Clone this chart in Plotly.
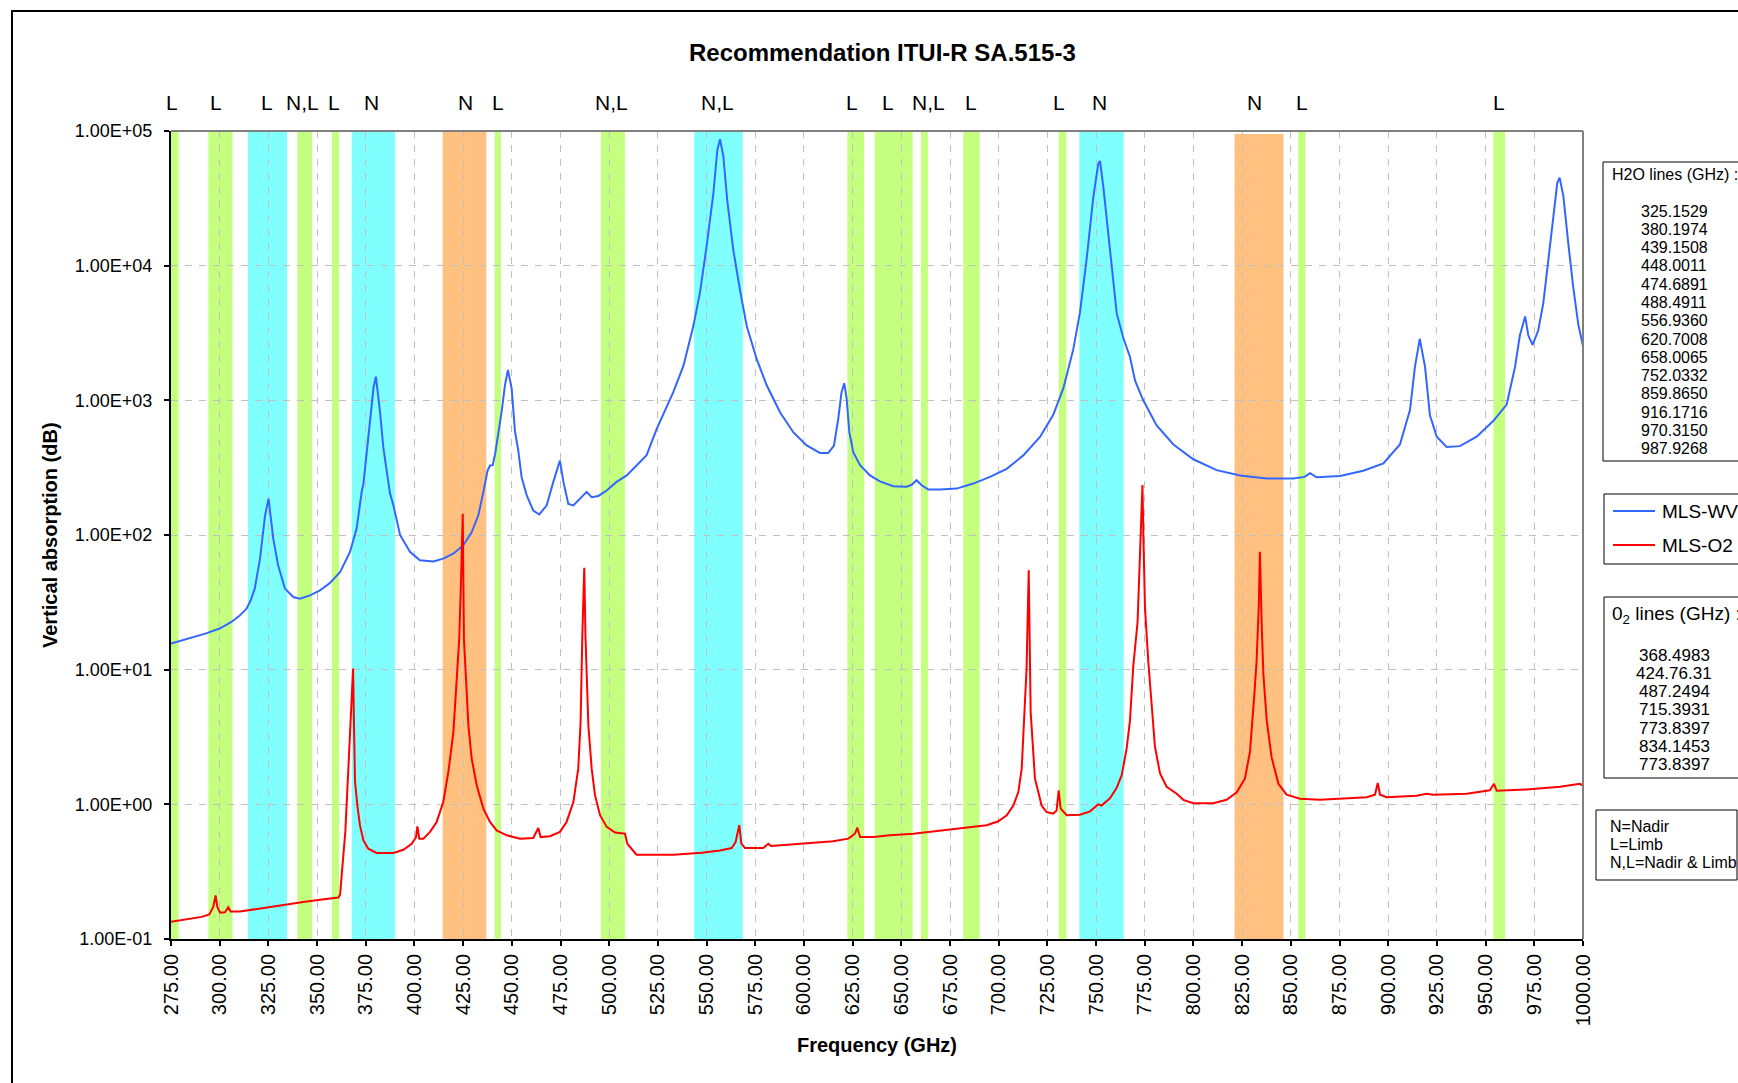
import math
import plotly.graph_objects as go

# ---------------------------------------------------------------------------
# Vertical absorption spectra (dB) for the two MLS model atmospheres
# ---------------------------------------------------------------------------
wv_freq = [275.0, 280.0, 286.5, 293.0, 300.0, 306.0, 310.0, 313.8, 316.0, 318.0,
           320.7, 323.3, 325.1, 327.5, 330.0, 333.5, 337.8, 341.2, 346.4, 351.5,
           356.6, 361.8, 366.9, 370.3, 372.9, 373.8, 375.5, 377.2, 379.0, 380.2,
           382.3, 384.0, 385.7, 387.4, 389.2, 392.6, 397.7, 402.8, 409.7, 414.8,
           419.9, 425.1, 429.4, 432.8, 435.4, 437.5, 438.8, 440.2, 441.4, 443.1,
           444.8, 446.5, 448.0, 449.9, 451.6, 453.3, 455.0, 457.6, 461.0, 464.1,
           467.9, 471.3, 474.7, 476.5, 479.0, 481.6, 485.9, 488.4, 491.0, 494.4,
           498.7, 503.8, 509.0, 514.1, 519.2, 524.4, 532.9, 538.1, 543.2, 546.6,
           550.0, 553.5, 555.5, 556.9, 558.6, 560.6, 563.7, 567.1, 570.6, 575.7,
           580.8, 587.7, 594.5, 601.4, 608.2, 612.5, 615.4, 617.6, 619.3, 620.7,
           621.9, 623.3, 625.3, 628.8, 633.9, 639.0, 645.9, 652.7, 655.3, 657.8,
           660.4, 663.8, 669.8, 678.4, 686.9, 695.5, 704.1, 712.6, 721.2, 728.0,
           733.2, 738.3, 741.7, 745.1, 748.6, 751.1, 752.0, 753.7, 756.3, 758.8,
           760.6, 764.0, 767.4, 770.0, 774.2, 781.1, 789.7, 799.9, 811.9, 823.9,
           837.6, 851.3, 857.0, 859.9, 863.2, 875.2, 887.2, 897.5, 906.0, 911.2,
           913.7, 916.2, 918.9, 921.4, 924.9, 930.0, 936.8, 945.4, 954.0, 960.8,
           965.1, 967.6, 970.3, 971.9, 974.1, 977.0, 979.6, 982.2, 984.8, 986.8,
           988.0, 989.9, 992.5, 995.0, 997.6, 1000.0]
wv_db = [15.6, 16.4, 17.3, 18.6, 20.2, 22.6, 25.0, 28.4, 33.0, 39.9,
         66.7, 140, 186, 94, 59.6, 40.0, 34.6, 33.7, 35.6, 38.8,
         44.0, 53.0, 74.8, 111, 209, 240, 410, 740, 1250, 1500,
         830, 450, 302, 205, 166, 100, 75.0, 65.0, 63.7, 66.7,
         72.7, 83.8, 105, 140, 209, 300, 328, 330, 398, 563,
         831, 1300, 1680, 1230, 590, 425, 270, 198, 152, 142,
         166, 248, 357, 248, 170, 166, 191, 209, 191, 195,
         214, 248, 277, 329, 392, 614, 1150, 1800, 3560, 6300,
         13900, 34500, 72000, 87000, 65000, 30700, 13100, 6650, 3560, 2030,
         1300, 815, 580, 462, 407, 407, 462, 727, 1150, 1340,
         1030, 580, 412, 330, 277, 250, 230, 228, 236, 255,
         234, 218, 218, 221, 241, 270, 310, 390, 535, 780,
         1230, 2400, 4480, 11100, 32500, 57000, 60000, 38700, 17500, 8400,
         4400, 2900, 2100, 1400, 1000, 650, 470, 365, 303, 277,
         263, 263, 270, 288, 268, 274, 300, 340, 470, 850,
         1770, 2860, 1770, 775, 537, 450, 457, 537, 705, 930,
         1770, 3040, 4200, 3040, 2580, 3300, 5250, 11000, 22800, 41200,
         45000, 33000, 14400, 6900, 3650, 2530]

o2_freq = [275.0, 280.5, 285.6, 290.7, 294.7, 296.7, 297.9, 298.8, 300.2, 302.7,
           304.4, 305.6, 310.4, 317.3, 325.8, 334.4, 342.9, 351.5, 360.9, 361.8,
           363.1, 364.5, 365.5, 366.6, 367.4, 368.5, 369.0, 369.5, 370.7, 372.0,
           373.8, 376.3, 380.6, 389.2, 394.3, 398.6, 400.8, 401.5, 402.5, 404.6,
           408.0, 411.4, 414.8, 417.4, 420.0, 421.7, 423.0, 423.9, 424.8, 425.4,
           426.5, 427.7, 429.4, 432.0, 435.4, 438.8, 442.2, 447.4, 454.2, 461.0,
           463.6, 464.8, 469.6, 474.7, 478.1, 481.6, 484.1, 485.3, 486.2, 487.2,
           487.8, 488.4, 489.3, 491.0, 492.7, 495.3, 498.7, 503.0, 508.1, 509.3,
           511.5, 514.0, 525.2, 532.9, 547.5, 556.9, 562.9, 564.9, 566.0, 566.8,
           567.8, 569.7, 579.1, 581.7, 583.1, 592.8, 604.8, 615.0, 622.8, 626.2,
           627.4, 628.8, 635.6, 644.2, 656.1, 664.7, 675.0, 683.5, 693.8, 699.8,
           704.1, 707.5, 710.1, 711.8, 713.0, 714.3, 715.4, 715.8, 716.4, 717.4,
           718.6, 720.3, 722.0, 724.6, 728.0, 729.7, 730.8, 731.8, 734.9, 741.7,
           746.9, 751.1, 752.8, 757.1, 760.5, 763.1, 765.7, 767.4, 769.1, 771.3,
           772.9, 773.8, 774.3, 775.1, 776.8, 778.5, 780.2, 782.8, 786.2, 791.4,
           794.8, 799.9, 810.2, 817.0, 822.2, 826.4, 829.0, 831.1, 832.4, 833.5,
           834.1, 835.0, 835.9, 837.6, 840.1, 843.6, 847.8, 854.7, 865.0, 888.9,
           893.2, 894.6, 895.8, 899.2, 914.6, 919.7, 923.1, 940.3, 952.2, 954.3,
           955.7, 971.1, 988.2, 998.4, 1000.0]
o2_db = [0.134, 0.138, 0.142, 0.146, 0.152, 0.173, 0.211, 0.173, 0.157, 0.158,
         0.172, 0.160, 0.160, 0.166, 0.173, 0.181, 0.188, 0.196, 0.203, 0.213,
         0.373, 0.624, 1.24, 2.6, 5.1, 10.2, 3.6, 1.47, 0.98, 0.70,
         0.54, 0.468, 0.436, 0.436, 0.46, 0.51, 0.57, 0.687, 0.556, 0.556,
         0.624, 0.74, 1.04, 1.74, 3.44, 8.1, 17.0, 44.8, 144, 17.0,
         8.1, 3.86, 2.18, 1.38, 0.93, 0.74, 0.64, 0.589, 0.556, 0.562,
         0.667, 0.571, 0.58, 0.624, 0.74, 1.04, 1.84, 4.07, 18.0, 57.0,
         18.0, 8.1, 3.86, 1.84, 1.17, 0.83, 0.68, 0.617, 0.605, 0.51,
         0.468, 0.423, 0.423, 0.423, 0.437, 0.455, 0.474, 0.525, 0.624, 0.70,
         0.513, 0.474, 0.474, 0.51, 0.49, 0.503, 0.519, 0.531, 0.556, 0.605,
         0.671, 0.571, 0.571, 0.589, 0.605, 0.624, 0.649, 0.667, 0.70, 0.748,
         0.83, 0.98, 1.24, 1.84, 4.1, 10.2, 54.7, 14.3, 4.85, 2.9,
         1.55, 1.24, 0.98, 0.877, 0.853, 0.90, 1.27, 0.93, 0.83, 0.838,
         0.887, 1.0, 0.98, 1.11, 1.32, 1.64, 2.6, 4.2, 10.7, 22.6,
         104, 235, 95, 28.8, 11.5, 5.1, 2.69, 1.70, 1.35, 1.20,
         1.08, 1.02, 1.02, 1.08, 1.23, 1.55, 2.45, 6.1, 11.5, 28.8,
         75.0, 21.9, 9.2, 4.2, 2.24, 1.42, 1.18, 1.10, 1.08, 1.13,
         1.18, 1.44, 1.18, 1.13, 1.16, 1.20, 1.18, 1.20, 1.27, 1.42,
         1.26, 1.29, 1.35, 1.42, 1.38]

# ---------------------------------------------------------------------------
# Allocated sensing bands (GHz), their group and Nadir/Limb usage
# ---------------------------------------------------------------------------
band_lo = [275.0, 294.2, 314.5, 339.9, 357.6, 367.8, 414.5, 441.2, 495.7, 543.6,
           622.3, 636.3, 660.1, 681.8, 730.8, 741.4, 821.1, 853.8, 954.0]
band_hi = [278.9, 306.6, 334.6, 347.4, 361.3, 390.0, 436.9, 444.4, 508.1, 568.6,
           630.9, 655.8, 663.6, 690.2, 734.7, 764.2, 846.2, 857.5, 960.0]
band_group = ["green", "green", "cyan", "green", "green", "cyan", "orange", "green",
              "green", "cyan", "green", "green", "green", "green", "green", "cyan",
              "orange", "green", "green"]
band_top_db = [1e5, 1e5, 1e5, 1e5, 1e5, 1e5, 1e5, 1e5, 1e5, 1e5,
               1e5, 1e5, 1e5, 1e5, 1e5, 1e5, 9.5e4, 1e5, 1e5]
band_mode = ["L", "L", "L", "N,L", "L", "N", "N", "L", "N,L", "N,L",
             "L", "L", "N,L", "L", "L", "N", "N", "L", "L"]
mode_freq = [275.4, 298.2, 324.3, 342.5, 358.5, 377.8, 426.2, 442.7, 501.3, 555.4,
             624.8, 643.0, 664.1, 685.7, 731.2, 751.7, 831.4, 855.8, 957.1]

# Tick positions and labels
x_ticks = [275, 300, 325, 350, 375, 400, 425, 450, 475, 500, 525, 550, 575, 600,
           625, 650, 675, 700, 725, 750, 775, 800, 825, 850, 875, 900, 925, 950,
           975, 1000]
x_tick_text = ["%.2f" % v for v in x_ticks]
y_ticks = [0.1, 1, 10, 100, 1000, 10000, 100000]
y_tick_text = ["1.00E-01", "1.00E+00", "1.00E+01", "1.00E+02", "1.00E+03",
               "1.00E+04", "1.00E+05"]

# Side-panel contents
h2o_lines = ["325.1529", "380.1974", "439.1508", "448.0011", "474.6891", "488.4911",
             "556.9360", "620.7008", "658.0065", "752.0332", "859.8650", "916.1716",
             "970.3150", "987.9268"]
o2_lines = ["368.4983", "424.76.31", "487.2494", "715.3931", "773.8397", "834.1453",
            "773.8397"]
mode_key = ["N=Nadir", "L=Limb", "N,L=Nadir & Limb"]
series_names = ["MLS-WV", "MLS-O2"]

# ---------------------------------------------------------------------------
# Styling
# ---------------------------------------------------------------------------
FONT = "Liberation Sans, Arial, sans-serif"
GROUP_COLORS = {"green": "#C4FF80", "cyan": "#80FFFF", "orange": "#FFC080"}
WV_COLOR = "#3366FF"
O2_COLOR = "#FF0000"

W, H = 1738, 1083
PL, PR, PT, PB = 171, 1583, 131, 939   # plot area in pixels


def px_x(px):
    return (px - PL) / (PR - PL)


def px_y(py):
    return (PB - py) / (PB - PT)


def log_paper(v):
    return (math.log10(v) + 1.0) / 6.0


fig = go.Figure()
fig.add_trace(go.Scatter(x=wv_freq, y=wv_db, mode="lines", name=series_names[0],
                         line=dict(color=WV_COLOR, width=2), showlegend=False))
fig.add_trace(go.Scatter(x=o2_freq, y=o2_db, mode="lines", name=series_names[1],
                         line=dict(color=O2_COLOR, width=2), showlegend=False))

shapes = []
annotations = []

# coloured bands behind the grid
for lo, hi, grp, top in zip(band_lo, band_hi, band_group, band_top_db):
    shapes.append(dict(type="rect", xref="x", yref="paper", x0=lo, x1=hi,
                       y0=0, y1=log_paper(top), fillcolor=GROUP_COLORS[grp],
                       line=dict(width=0), layer="below"))

# N / L markers above the bands
for f, m in zip(mode_freq, band_mode):
    annotations.append(dict(x=f, y=px_y(103), xref="x", yref="paper", text=m,
                            showarrow=False, xanchor="center", yanchor="middle",
                            font=dict(family=FONT, size=21, color="black")))

# plot-area top/right border
shapes.append(dict(type="line", xref="paper", yref="paper", x0=0, x1=1, y0=1, y1=1,
                   line=dict(color="#808080", width=2), layer="above"))
shapes.append(dict(type="line", xref="paper", yref="paper", x0=1, x1=1, y0=0, y1=1,
                   line=dict(color="#808080", width=2), layer="above"))

# outer chart frame
shapes.append(dict(type="rect", xref="paper", yref="paper",
                   x0=px_x(12), x1=px_x(1800), y0=px_y(11), y1=px_y(1120),
                   line=dict(color="black", width=2), fillcolor="rgba(0,0,0,0)",
                   layer="above"))

# title and axis titles
annotations.append(dict(x=px_x(882), y=px_y(52), xref="paper", yref="paper",
                        text="<b>Recommendation ITUI-R SA.515-3</b>", showarrow=False,
                        xanchor="center", yanchor="middle",
                        font=dict(family=FONT, size=24, color="black")))
annotations.append(dict(x=0.5, y=px_y(1045), xref="paper", yref="paper",
                        text="<b>Frequency (GHz)</b>", showarrow=False,
                        xanchor="center", yanchor="middle",
                        font=dict(family=FONT, size=20, color="black")))
annotations.append(dict(x=px_x(50), y=0.5, xref="paper", yref="paper",
                        text="<b>Vertical absorption (dB)</b>", showarrow=False,
                        textangle=-90, xanchor="center", yanchor="middle",
                        font=dict(family=FONT, size=20, color="black")))


def box(x0, y0, x1, y1):
    shapes.append(dict(type="rect", xref="paper", yref="paper",
                       x0=px_x(x0), x1=px_x(x1), y0=px_y(y0), y1=px_y(y1),
                       line=dict(color="black", width=1), fillcolor="white",
                       layer="above"))


def text(x, y, s, anchor="left", size=16):
    annotations.append(dict(x=px_x(x), y=px_y(y), xref="paper", yref="paper",
                            text=s, showarrow=False, xanchor=anchor,
                            yanchor="middle",
                            font=dict(family=FONT, size=size, color="black")))


# H2O line list
box(1603, 162, 1800, 461)
text(1610, 174, "H2O lines (GHz) :")
for i, s in enumerate(h2o_lines):
    text(1674, 211 + i * 18.3, s, "center")

# series key
box(1604, 494, 1800, 564)
for i, (name, col) in enumerate(zip(series_names, [WV_COLOR, O2_COLOR])):
    yy = 511 + i * 34
    shapes.append(dict(type="line", xref="paper", yref="paper",
                       x0=px_x(1613), x1=px_x(1655), y0=px_y(yy), y1=px_y(yy),
                       line=dict(color=col, width=2), layer="above"))
    text(1660, yy, name, size=19)

# O2 line list
box(1604, 597, 1800, 778)
text(1610, 615, "0<sub>2</sub> lines (GHz) :", size=19)
for i, s in enumerate(o2_lines):
    text(1674, 655 + i * 18.3, s, "center", size=17)

# N / L key
box(1596, 810, 1737, 880)
for i, s in enumerate(mode_key):
    text(1608, 826 + i * 18.3, s)

grid = dict(showgrid=True, gridcolor="#C0C0C0", gridwidth=1, griddash="7px,7px",
            showline=True, linecolor="black", linewidth=2, ticks="outside",
            ticklen=5, tickwidth=2, tickcolor="black", zeroline=False)

fig.update_layout(
    width=W, height=H, autosize=False,
    margin=dict(l=PL, r=W - PR, t=PT, b=H - PB, pad=0),
    paper_bgcolor="white", plot_bgcolor="white",
    shapes=shapes, annotations=annotations,
    xaxis=dict(range=[275, 1000], tickmode="array", tickvals=x_ticks,
               ticktext=x_tick_text, tickangle=-90,
               tickfont=dict(family=FONT, size=20, color="black"), **grid),
    yaxis=dict(type="log", range=[-1, 5], tickmode="array", tickvals=y_ticks,
               ticktext=y_tick_text, ticklabelstandoff=8,
               tickfont=dict(family=FONT, size=18, color="black"), **grid),
)

fig.write_html("out.html")
